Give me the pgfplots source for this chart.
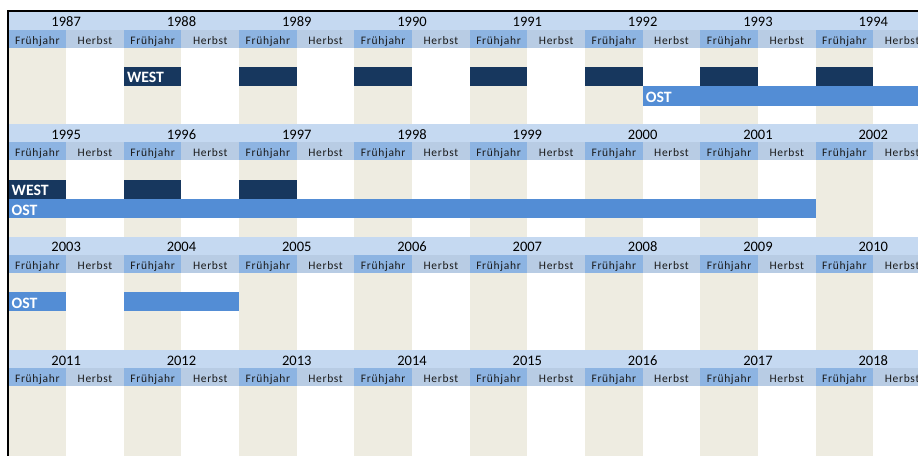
\documentclass[border=0pt]{standalone}
\usepackage{fontspec}
\setmainfont{Carlito}
\newfontfamily\subfont[LetterSpace=6]{Carlito}
\usepackage{pgfplots}
\pgfplotsset{compat=1.18}
\definecolor{yearband}{HTML}{C5D9F1}
\definecolor{fj}{HTML}{8DB4E2}
\definecolor{hb}{HTML}{B8CCE4}
\definecolor{beige}{HTML}{EEECE1}
\definecolor{west}{HTML}{17375E}
\definecolor{ost}{HTML}{538DD5}
\definecolor{txt}{HTML}{1A1A1A}

% rectangle: colour, x0, x1, y0, y1  (x in half-years, y in rows)
\newcommand\rect[5]{\addplot[fill=#1,draw=none,forget plot] coordinates {(#2,#4) (#3,#4) (#3,#5) (#2,#5)} -- cycle;}

\tikzset{
  yearlbl/.style={anchor=base,inner sep=0pt,text=black,font=\fontsize{14.5bp}{16bp}\selectfont},
  sublbl/.style={anchor=base,inner sep=0pt,text=txt,font=\subfont\fontsize{11.5bp}{13bp}\selectfont},
  barlbl/.style={anchor=base west,inner sep=0pt,xshift=3bp,text=white,font=\bfseries\fontsize{15.8bp}{17bp}\selectfont},
}

% panel header: top y, first year
\newcommand\panel[2]{%
  \pgfmathsetmacro\ya{#1}\pgfmathsetmacro\yb{#1+18.3}\pgfmathsetmacro\yc{#1+36.3}%
  \pgfmathsetmacro\yt{#1+15}\pgfmathsetmacro\ys{#1+32.5}%
  \edef\doit{\noexpand\rect{yearband}{-0.01}{16}{\ya}{\yb}\noexpand\rect{hb}{-0.01}{16}{\yb}{\yc}}\doit
  \pgfplotsforeachungrouped \i in {0,...,7}{%
    \pgfmathsetmacro\xa{2*\i}\pgfmathsetmacro\xb{2*\i+1}\pgfmathsetmacro\xc{2*\i+2}%
    \pgfmathsetmacro\xfa{2*\i+0.5}\pgfmathsetmacro\xfb{2*\i+1.5}%
    \pgfmathtruncatemacro\yr{#2+\i}%
    \edef\doit{\noexpand\rect{fj}{\xa}{\xb}{\yb}{\yc}%
      \noexpand\node[yearlbl] at (axis cs:\xb,\yt) {\yr};%
      \noexpand\node[sublbl] at (axis cs:\xfa,\ys) {Frühjahr};%
      \noexpand\node[sublbl] at (axis cs:\xfb,\ys) {Herbst};}\doit
  }%
}

\begin{document}
\begin{tikzpicture}
\useasboundingbox (0,0) rectangle (918bp,456bp);
\begin{scope}
\clip (0,0) rectangle (918bp,456bp);
\begin{axis}[scale only axis, width=918bp, height=456bp,
  xmin=-0.1474, xmax=15.776, ymin=0, ymax=456, y dir=reverse,
  hide axis, clip=true]
% beige spring columns
\pgfplotsforeachungrouped \i in {0,...,7}{%
  \pgfmathsetmacro\xa{2*\i}\pgfmathsetmacro\xb{2*\i+1}%
  \edef\doit{\noexpand\rect{beige}{\xa}{\xb}{11}{456}}\doit}
% headers
\panel{11.8}{1987}
\panel{124}{1995}
\panel{236.5}{2003}
\panel{350}{2011}
% Panel 1987-1994: WEST
\rect{west}{2}{3}{66.7}{85.7}
\rect{west}{4}{5}{66.7}{85.7}
\rect{west}{6}{7}{66.7}{85.7}
\rect{west}{8}{9}{66.7}{85.7}
\rect{west}{10}{11}{66.7}{85.7}
\rect{west}{12}{13}{66.7}{85.7}
\rect{west}{14}{15}{66.7}{85.7}
% Panel 1987-1994: OST
\rect{ost}{11}{16}{85.7}{105.7}
% Panel 1995-2002: WEST
\rect{west}{-0.01}{1}{179.5}{198.5}
\rect{west}{2}{3}{179.5}{198.5}
\rect{west}{4}{5}{179.5}{198.5}
% Panel 1995-2002: OST
\rect{ost}{-0.01}{14}{198.5}{218}
% Panel 2003-2010: OST
\rect{ost}{-0.01}{1}{292}{311}
\rect{ost}{2}{4}{292}{311}
% bar labels
\node[barlbl] at (axis cs:2,82.7) {WEST};
\node[barlbl] at (axis cs:11,102.5) {OST};
\node[barlbl] at (axis cs:0,195.5) {WEST};
\node[barlbl] at (axis cs:0,215) {OST};
\node[barlbl] at (axis cs:0,308) {OST};
% frame
\draw[black,line width=1.3bp] (axis cs:16,11) -- (axis cs:-0.0087,11) -- (axis cs:-0.0087,456);
\end{axis}
\end{scope}
\end{tikzpicture}
\end{document}
